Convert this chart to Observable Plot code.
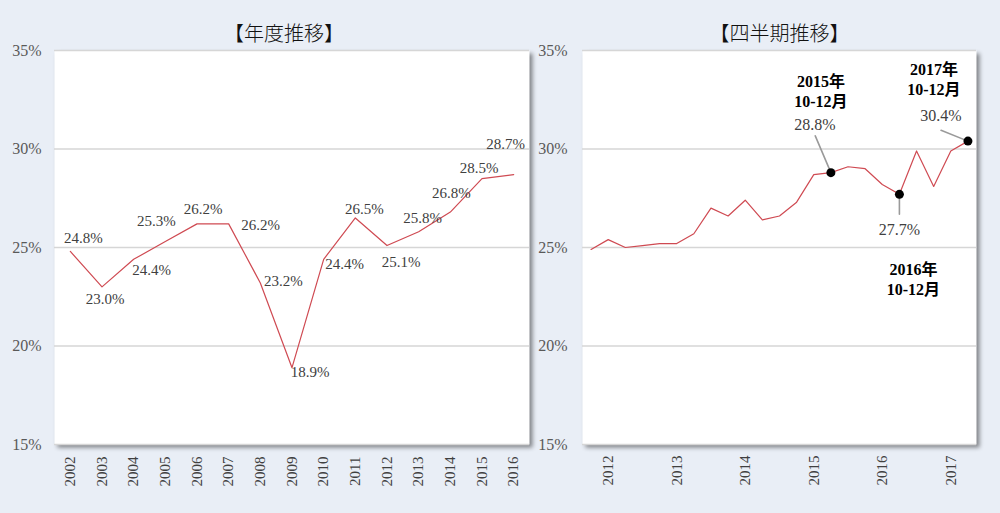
<!DOCTYPE html>
<html lang="ja"><head><meta charset="utf-8">
<script src="https://cdn.jsdelivr.net/npm/d3@7"></script>
<script src="https://cdn.jsdelivr.net/npm/@observablehq/plot@0.6"></script>
<style>
html,body{margin:0;padding:0;background:#e9eef6;}
#wrap{position:relative;width:1000px;height:513px;background:#e9eef6;overflow:hidden;}
#left{position:absolute;left:0;top:0;}
#right{position:absolute;left:530px;top:0;}
svg [aria-label="frame"]{filter:drop-shadow(3px 3px 2px rgba(0,0,0,0.45));}
svg text{font-family:'Liberation Serif','Times New Roman','Noto Sans CJK JP',serif;}
svg .ttl text{font-family:'Noto Sans CJK JP',sans-serif;font-weight:300;}
</style></head>
<body><div id="wrap"><div id="left"></div><div id="right"></div></div>
<script>
// ---- data ----
const annualYears = ["2002","2003","2004","2005","2006","2007","2008","2009","2010","2011","2012","2013","2014","2015","2016"];
const annualValues = [24.8,23.0,24.4,25.3,26.2,26.2,23.2,18.9,24.4,26.5,25.1,25.8,26.8,28.5,28.7];
const annualLabelDx = [13,3,18,-9,6,32,23,18,21,9,14,4,1,-3,-8];
const annualLabelDy = [-13,12,11,-20,-15,1,-2,5,5,-9,17,-14,-19,-10,-30];

const quarterKeys = ["2012Q2","2012Q3","2012Q4","2013Q1","2013Q2","2013Q3","2013Q4","2014Q1","2014Q2","2014Q3","2014Q4","2015Q1","2015Q2","2015Q3","2015Q4","2016Q1","2016Q2","2016Q3","2016Q4","2017Q1","2017Q2","2017Q3","2017Q4"];
const quarterValues = [24.9,25.4,25.0,25.1,25.2,25.2,25.7,27.0,26.6,27.4,26.4,26.6,27.3,28.7,28.8,29.1,29.0,28.2,27.7,29.9,28.1,29.9,30.4];
const quarterTickKeys = ["2012Q3","2013Q3","2014Q3","2015Q3","2016Q3","2017Q3"];

const highlightKeys = ["2015Q4","2016Q4","2017Q4"];
const highlightPeriods = ["2015年\n10-12月","2016年\n10-12月","2017年\n10-12月"];
const highlightValueDx = [-16,0,-27];
const highlightValueDy = [-48,36,-25];
const highlightPeriodDx = [-10,14,-34];
const highlightPeriodDy = [-82,84,-63];
const leaderLength = [40,20,29];
const leaderAngle = [-23,180,-68];

const yTicks = [15,20,25,30,35];

const annual = annualYears.map((year,i)=>({year, value: annualValues[i]}));
const quarterly = quarterKeys.map((key,i)=>({key, value: quarterValues[i]}));
const highlights = highlightKeys.map((key,i)=>({key, value: quarterValues[quarterKeys.indexOf(key)], period: highlightPeriods[i]}));

const serif = "'Liberation Serif','Times New Roman','Noto Sans CJK JP',serif";
const lineColor = "#cf4a52";
const gridColor = "#d6d6d6";
const pct = d => d.toFixed(1) + "%";

const left = Plot.plot({
  width: 540, height: 513,
  marginLeft: 54, marginRight: 11, marginTop: 50, marginBottom: 69,
  style: {fontFamily: serif, background: "transparent", overflow: "visible"},
  x: {type: "point", domain: annualYears, padding: 0.5, round: false},
  y: {domain: [15, 35]},
  marks: [
    Plot.frame({fill: "white", stroke: null}),
    Plot.ruleY(yTicks, {stroke: gridColor, strokeWidth: 1.5}),
    Plot.line(annual, {x: "year", y: "value", stroke: lineColor, strokeWidth: 1.2}),
    ...annual.map((d,i) => Plot.text([d], {x: "year", y: "value", text: d => pct(d.value), dx: annualLabelDx[i], dy: annualLabelDy[i], fontSize: 15, fontFamily: serif, fill: "#404040"})),
    Plot.axisY({ticks: yTicks, tickFormat: d => d + "%", tickSize: 0, tickPadding: 13, fontSize: 16, fontFamily: serif, fill: "#595959", label: null}),
    Plot.axisX({tickRotate: -90, tickSize: 0, tickPadding: 12, fontSize: 15, fontFamily: serif, fill: "#404040", label: null}),
    Plot.text(["【年度推移】"], {text: d => d, frameAnchor: "top", dx: -8, dy: -24, fontSize: 20, fontWeight: 300, fontFamily: "'Noto Sans CJK JP',sans-serif", fill: "#111", className: "ttl"})
  ]
});
document.getElementById("left").appendChild(left);

const lineShape = {draw(context, l) { context.moveTo(0, 0); context.lineTo(0, -l); }};

const right = Plot.plot({
  width: 470, height: 513,
  marginLeft: 52, marginRight: 24, marginTop: 50, marginBottom: 69,
  style: {fontFamily: serif, background: "transparent", overflow: "visible"},
  x: {type: "point", domain: quarterKeys, padding: 0.5, round: false},
  y: {domain: [15, 35]},
  marks: [
    Plot.frame({fill: "white", stroke: null}),
    Plot.ruleY(yTicks, {stroke: gridColor, strokeWidth: 1.5}),
    Plot.line(quarterly, {x: "key", y: "value", stroke: lineColor, strokeWidth: 1.2}),
    ...highlights.map((d,i) => Plot.vector([d], {x: "key", y: "value", length: leaderLength[i], rotate: leaderAngle[i], anchor: "start", shape: lineShape, stroke: "#9a9a9a", strokeWidth: 1.6})),
    Plot.dot(highlights, {x: "key", y: "value", r: 4.5, fill: "#000"}),
    ...highlights.map((d,i) => Plot.text([d], {x: "key", y: "value", text: d => pct(d.value), dx: highlightValueDx[i], dy: highlightValueDy[i], fontSize: 16, fontFamily: serif, fill: "#404040"})),
    ...highlights.map((d,i) => Plot.text([d], {x: "key", y: "value", text: "period", dx: highlightPeriodDx[i], dy: highlightPeriodDy[i], fontSize: 16, fontFamily: serif, fontWeight: "bold", lineHeight: 1.25, fill: "#000"})),
    Plot.axisY({ticks: yTicks, tickFormat: d => d + "%", tickSize: 0, tickPadding: 15, fontSize: 16, fontFamily: serif, fill: "#595959", label: null}),
    Plot.axisX({ticks: quarterTickKeys, tickFormat: d => d.slice(0, 4), tickRotate: -90, tickSize: 0, tickPadding: 11, fontSize: 15, fontFamily: serif, fill: "#404040", label: null}),
    Plot.text(["【四半期推移】"], {text: d => d, frameAnchor: "top", dy: -24, fontSize: 20, fontWeight: 300, fontFamily: "'Noto Sans CJK JP',sans-serif", fill: "#111", className: "ttl"})
  ]
});
document.getElementById("right").appendChild(right);
</script>
</body></html>
